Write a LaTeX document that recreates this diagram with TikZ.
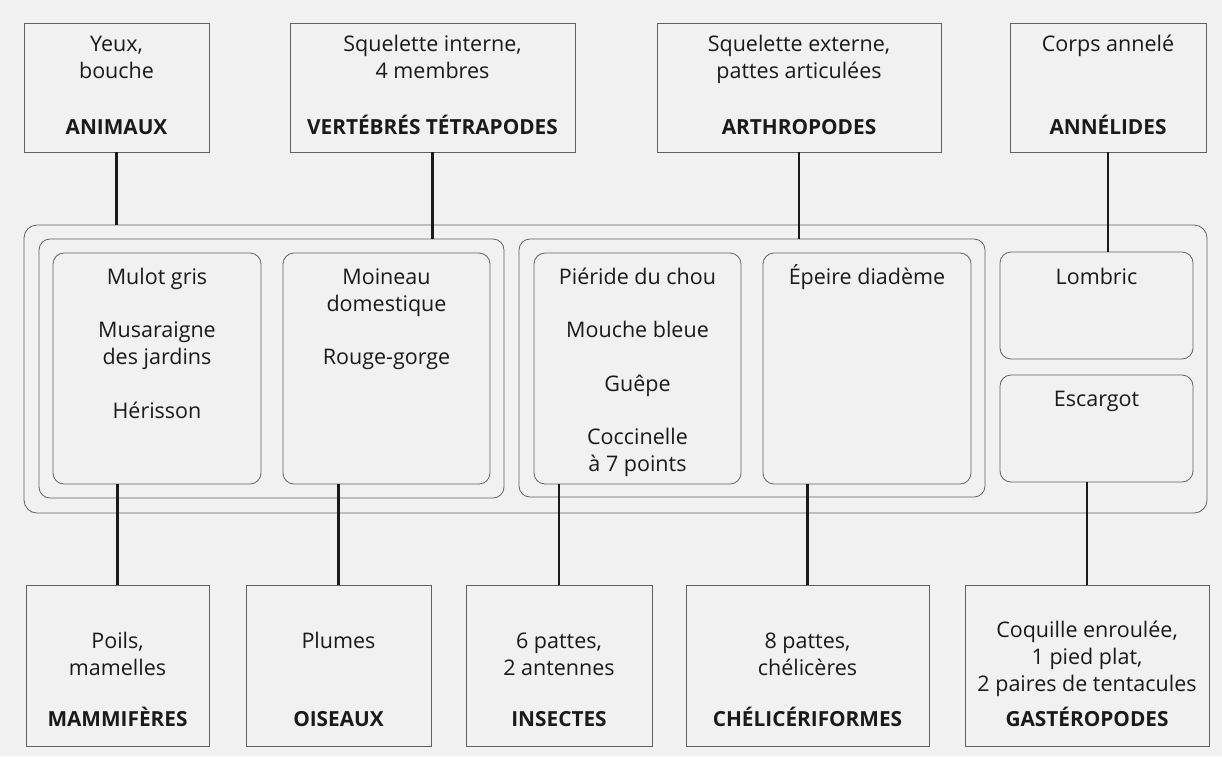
\documentclass[tikz,border=0pt]{standalone}
\usepackage{fontspec}
\setmainfont{Open Sans}
\definecolor{paper}{HTML}{F1F1F1}
\definecolor{ink}{HTML}{1A1A1A}
\newcommand\tline[4]{\node[txt] (#1) at (#2,#3) {#4};}
\newcommand\bline[4]{\node[btxt] (#1) at (#2,#3) {#4};}
\begin{document}
\begin{tikzpicture}[x=1pt,y=-1pt,
  frame/.style={draw=black!62,line width=0.8pt,fill=paper,inner sep=0pt,outer sep=0pt},
  sq/.style={frame},
  rd/.style={frame,rounded corners=11pt},
  conn/.style={draw=ink,line width=2.1pt},
  txt/.style={anchor=base,inner sep=0pt,text=ink,font=\fontsize{21.5}{26}\selectfont},
  btxt/.style={txt,font=\fontsize{20.8}{26}\selectfont\bfseries}]

\fill[paper] (0,0) rectangle (1222,756);
\useasboundingbox (0,0) rectangle (1222,756);

% top boxes
\node[sq,minimum width=185pt,minimum height=129pt] (animaux) at (116.5,87.5) {};
\node[sq,minimum width=285pt,minimum height=129pt] (vertebres) at (432.5,87.5) {};
\node[sq,minimum width=284pt,minimum height=129pt] (arthropodes) at (799,87.5) {};
\node[sq,minimum width=196pt,minimum height=129pt] (annelides) at (1108,87.5) {};

% grouping boxes
\node[rd,rounded corners=13pt,minimum width=1183pt,minimum height=288pt] (outer) at (615.5,369) {};
\node[rd,minimum width=465pt,minimum height=259pt] (vertgrp) at (271.5,368.5) {};
\node[rd,minimum width=466pt,minimum height=258pt] (arthgrp) at (752,368) {};

% leaf boxes
\node[rd,minimum width=208pt,minimum height=231pt] (mulot) at (157,368.5) {};
\node[rd,minimum width=207pt,minimum height=231pt] (moineau) at (386.5,368.5) {};
\node[rd,minimum width=207pt,minimum height=231pt] (pieride) at (637.5,368.5) {};
\node[rd,minimum width=208pt,minimum height=231pt] (epeire) at (867,368.5) {};
\node[rd,minimum width=193pt,minimum height=107pt] (lombric) at (1096.5,305.5) {};
\node[rd,minimum width=193pt,minimum height=107pt] (escargot) at (1096.5,428.5) {};

% bottom boxes
\node[sq,minimum width=183pt,minimum height=161pt] (mammiferes) at (117.5,665.5) {};
\node[sq,minimum width=185pt,minimum height=161pt] (oiseaux) at (338.5,665.5) {};
\node[sq,minimum width=186pt,minimum height=161pt] (insectes) at (559,665.5) {};
\node[sq,minimum width=243pt,minimum height=161pt] (chelic) at (807.5,665.5) {};
\node[sq,minimum width=244pt,minimum height=161pt] (gastero) at (1087,665.5) {};

% connectors
\draw[conn] (animaux.south) -- (animaux.south |- outer.north);
\draw[conn] (vertebres.south) -- (vertebres.south |- vertgrp.north);
\draw[conn] (arthropodes.south) -- (arthropodes.south |- arthgrp.north);
\draw[conn] (annelides.south) -- (annelides.south |- lombric.north);
\draw[conn] (mammiferes.north |- mulot.south) -- (mammiferes.north);
\draw[conn] (oiseaux.north |- moineau.south) -- (oiseaux.north);
\draw[conn] (insectes.north |- pieride.south) -- (insectes.north);
\draw[conn] (chelic.north |- epeire.south) -- (chelic.north);
\draw[conn] (gastero.north |- escargot.south) -- (gastero.north);

% top texts
\tline{a1}{116.5}{51}{Yeux,}
\tline{a2}{116.5}{78}{bouche}
\bline{a3}{116.5}{134}{ANIMAUX}
\tline{v1}{432.5}{51}{Squelette interne,}
\tline{v2}{432.5}{78}{4 membres}
\bline{v3}{432.5}{134}{VERTÉBRÉS TÉTRAPODES}
\tline{r1}{799}{51}{Squelette externe,}
\tline{r2}{799}{78}{pattes articulées}
\bline{r3}{799}{134}{ARTHROPODES}
\tline{n1}{1108}{51}{Corps annelé}
\bline{n3}{1108}{134}{ANNÉLIDES}

% leaf texts
\tline{m1}{157}{284}{Mulot gris}
\tline{m2}{157}{337}{Musaraigne}
\tline{m3}{157}{364}{des jardins}
\tline{m4}{157}{418}{Hérisson}
\tline{o1}{386.5}{284}{Moineau}
\tline{o2}{386.5}{311}{domestique}
\tline{o3}{386.5}{364}{Rouge-gorge}
\tline{p1}{637.5}{284}{Piéride du chou}
\tline{p2}{637.5}{337.5}{Mouche bleue}
\tline{p3}{637.5}{391}{Guêpe}
\tline{p4}{637.5}{444}{Coccinelle}
\tline{p5}{637.5}{471}{à 7 points}
\tline{e1}{867}{284}{Épeire diadème}
\tline{l1}{1096.5}{284}{Lombric}
\tline{s1}{1096.5}{406}{Escargot}

% bottom texts
\tline{b11}{117.5}{648}{Poils,}
\tline{b12}{117.5}{675}{mamelles}
\bline{b13}{117.5}{726}{MAMMIFÈRES}
\tline{b21}{338.5}{648}{Plumes}
\bline{b23}{338.5}{726}{OISEAUX}
\tline{b31}{559}{648}{6 pattes,}
\tline{b32}{559}{675}{2 antennes}
\bline{b33}{559}{726}{INSECTES}
\tline{b41}{807.5}{648}{8 pattes,}
\tline{b42}{807.5}{675}{chélicères}
\bline{b43}{807.5}{726}{CHÉLICÉRIFORMES}
\tline{b51}{1087}{637}{Coquille enroulée,}
\tline{b52}{1087}{664}{1 pied plat,}
\tline{b53}{1087}{691}{2 paires de tentacules}
\bline{b54}{1087}{726}{GASTÉROPODES}
\end{tikzpicture}
\end{document}
